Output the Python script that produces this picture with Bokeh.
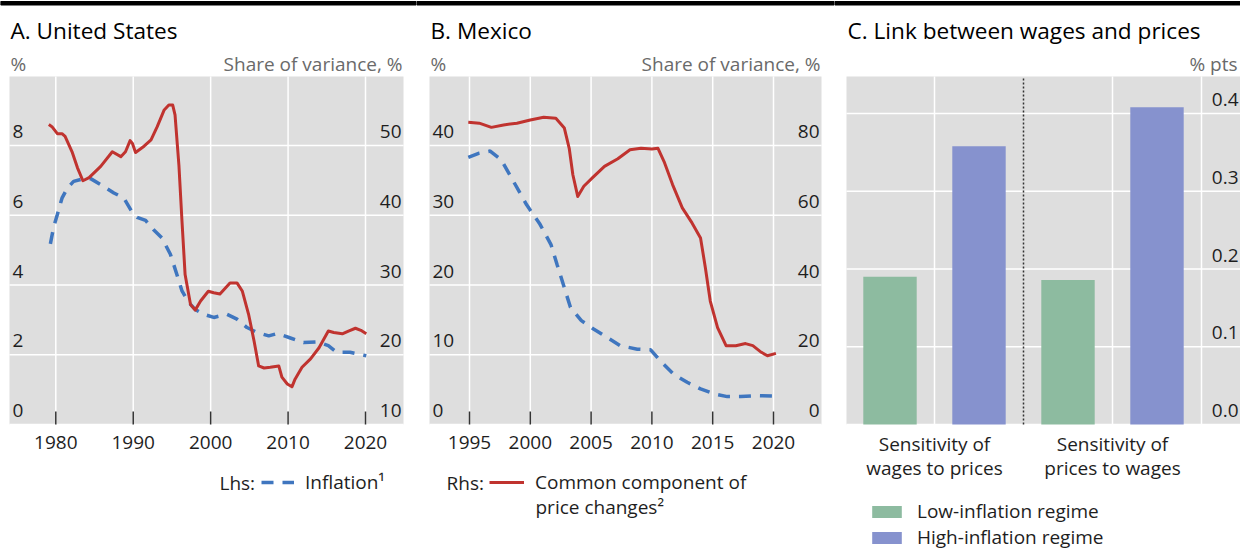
from bokeh.plotting import figure
from bokeh.models import Range1d, Label, Legend, LegendItem, ColumnDataSource
from bokeh.layouts import row
from bokeh.embed import file_html
from bokeh.resources import INLINE
from bokeh.core.properties import value

# ---------------- data ----------------
# Panel A: United States
us_infl_year = [1979.3, 1979.7, 1980.2, 1980.8, 1981.5, 1982.3, 1983.6, 1984.5, 1985.8, 1987.5,
                1988.8, 1989.9, 1990.5, 1991.6, 1992.6, 1993.7, 1994.8, 1995.7, 1996.3, 1997.2,
                1998.0, 1999.1, 2000.4, 2002.1, 2003.4, 2004.7, 2006.0, 2007.5, 2008.6, 2010.3,
                2012.0, 2013.8, 2015.2, 2016.3, 2018.0, 2020.1]
us_inflation = [5.18, 5.64, 6.02, 6.49, 6.78, 6.97, 7.05, 7.05, 6.88, 6.64,
                6.49, 6.07, 5.94, 5.85, 5.59, 5.35, 4.88, 4.26, 3.83, 3.49,
                3.30, 3.16, 3.07, 3.16, 3.02, 2.78, 2.64, 2.54, 2.61, 2.48,
                2.35, 2.37, 2.26, 2.07, 2.07, 1.97]
us_comm_year = [1979.1, 1979.5, 1980.2, 1980.8, 1981.2, 1982.1, 1982.8, 1983.5, 1984.3, 1985.8,
                1987.3, 1988.4, 1989.0, 1989.6, 1989.9, 1990.3, 1991.4, 1992.3, 1993.1, 1994.0,
                1994.6, 1995.1, 1995.4, 1995.9, 1996.3, 1996.7, 1997.4, 1998.0, 1998.7, 1999.7,
                2000.4, 2001.2, 2002.5, 2003.4, 2004.1, 2004.9, 2005.6, 2006.2, 2006.9, 2007.7,
                2008.8, 2009.2, 2009.9, 2010.5, 2010.9, 2011.8, 2012.9, 2014.0, 2015.2, 2015.9,
                2017.0, 2017.8, 2018.7, 2019.4, 2020.1]
us_common = [53.0, 52.7, 51.7, 51.7, 51.3, 49.1, 46.8, 44.95, 45.4, 47.0,
             49.1, 48.4, 49.1, 50.7, 50.3, 49.0, 49.9, 50.8, 52.7, 55.1,
             55.8, 55.8, 54.4, 47.2, 39.1, 31.5, 27.2, 26.4, 27.7, 29.1,
             28.9, 28.7, 30.3, 30.3, 29.1, 25.8, 22.0, 18.4, 18.1, 18.2,
             18.4, 16.8, 15.8, 15.4, 16.5, 18.2, 19.4, 21.0, 23.4, 23.2,
             23.0, 23.4, 23.8, 23.5, 23.0]
us_xticks = [1980, 1990, 2000, 2010, 2020]
us_lhs_ticks = [0, 2, 4, 6, 8]
us_rhs_ticks = [10, 20, 30, 40, 50]

# Panel B: Mexico
mx_infl_year = [1994.9, 1995.8, 1996.7, 1997.6, 1998.6, 1999.7, 2000.8, 2001.7, 2002.2, 2002.8,
                2003.3, 2004.2, 2005.2, 2006.3, 2007.4, 2008.8, 2009.9, 2010.7, 2011.8, 2012.9,
                2014.0, 2015.1, 2016.2, 2017.3, 2018.6, 2020.2]
mx_inflation = [38.3, 38.9, 39.2, 37.96, 34.9, 31.5, 28.7, 25.8, 22.95, 19.6,
                16.8, 14.9, 13.7, 12.5, 11.3, 10.8, 10.7, 9.1, 7.2, 6.05,
                5.1, 4.4, 4.0, 4.0, 4.14, 4.05]
mx_comm_year = [1994.9, 1995.8, 1996.8, 1997.8, 1998.9, 2000.0, 2001.1, 2002.1, 2002.8, 2003.2,
                2003.5, 2003.9, 2004.4, 2005.1, 2006.1, 2007.2, 2008.2, 2009.1, 2010.0, 2010.5,
                2011.0, 2011.7, 2012.5, 2013.3, 2014.0, 2014.4, 2014.8, 2015.4, 2016.1, 2016.9,
                2017.7, 2018.3, 2019.0, 2019.5, 2020.2]
mx_common = [86.7, 86.4, 85.2, 85.9, 86.4, 87.3, 88.1, 87.8, 85.0, 79.2,
             71.6, 65.4, 68.3, 70.7, 74.0, 76.2, 78.8, 79.2, 79.0, 79.2,
             75.4, 68.8, 62.1, 57.8, 53.5, 44.9, 35.4, 27.8, 22.6, 22.6,
             23.2, 22.6, 20.7, 19.7, 20.4]
mx_xticks = [1995, 2000, 2005, 2010, 2015, 2020]
mx_lhs_ticks = [0, 10, 20, 30, 40]
mx_rhs_ticks = [0, 20, 40, 60, 80]

# Panel C: Link between wages and prices
link_categories = ["Sensitivity of\nwages to prices", "Sensitivity of\nprices to wages"]
low_inflation = [0.190, 0.186]
high_inflation = [0.358, 0.408]
link_ticks = [0.0, 0.1, 0.2, 0.3, 0.4]
link_tick_labels = ["0.0", "0.1", "0.2", "0.3", "0.4"]

# ---------------- style / layout ----------------
FONT = "Open Sans"
BG = "#DEDEDE"
RED = "#C0332F"
BLUE = "#3F76BF"
GREEN = "#8DBBA0"
PURPLE = "#8692CE"
TXT = "#1E1E1E"
UNIT = "#6A6A6A"
H = 551
GRAY_TOP, GRAY_BOT = 76, 424
FS = "19px"
DASH = "12 9"


class Panel:
    def __init__(self, width, xmap, ymap, gray_lr):
        xv, xp, xs = xmap
        yv, yp, ys = ymap
        self.x0 = xv - xp / xs
        self.x1 = self.x0 + width / xs
        self.xs = xs
        self.ytop = yv + yp / ys
        self.ys = ys
        self.gl, self.gr = gray_lr
        p = figure(width=width, height=H, x_range=Range1d(self.x0, self.x1),
                   y_range=Range1d(self.ytop - H / ys, self.ytop), title=None,
                   output_backend="svg", toolbar_location=None,
                   x_axis_location=None, y_axis_location=None,
                   min_border_left=0, min_border_right=0, min_border_top=0,
                   min_border_bottom=0)
        p.outline_line_color = None
        p.background_fill_color = "white"
        p.border_fill_color = "white"
        for g in p.xgrid + p.ygrid:
            g.visible = False
        self.p = p
        # top black rule
        p.quad(left=[self.x0], right=[self.x1], top=[self.dy(1)], bottom=[self.dy(4.5)],
               color="black")
        # plot area
        p.quad(left=[self.dx(self.gl)], right=[self.dx(self.gr)], top=[self.dy(GRAY_TOP)],
               bottom=[self.dy(GRAY_BOT)], color=BG, line_color=None)

    def dx(self, px):
        return self.x0 + px / self.xs

    def dy(self, py):
        return self.ytop - py / self.ys

    def grid(self, xticks, yticks):
        p = self.p
        n, m = len(xticks), len(yticks)
        p.segment(x0=xticks, x1=xticks, y0=[self.dy(GRAY_BOT)] * n,
                  y1=[self.dy(GRAY_TOP)] * n, line_color="white", line_width=1.5)
        p.segment(x0=[self.dx(self.gl)] * m, x1=[self.dx(self.gr)] * m, y0=yticks, y1=yticks,
                  line_color="white", line_width=1.5)

    def text(self, px, py, txt, align="left", size=FS, color=TXT):
        self.p.add_layout(Label(x=self.dx(px), y=self.dy(py), text=txt, text_font=FONT,
                                text_font_size=size, text_color=color,
                                text_baseline="middle", text_align=align))

    def header(self, title, left_unit, right_unit, right_px):
        self.text(self.gl + 1, 30, title, size="22.6px", color="black")
        if left_unit:
            self.text(self.gl + 1, 63, left_unit, size="19px", color=UNIT)
        self.text(right_px, 63, right_unit, align="right", size="19px", color=UNIT)

    def ylabels(self, ticks, labels, right=False, range_name="default"):
        x = self.dx(self.gr - 2) if right else self.dx(self.gl + 3)
        self.p.text(x=[x] * len(ticks), y=ticks, text=labels, x_offset=0, y_offset=-14,
                    text_align="right" if right else "left", text_baseline="middle",
                    text_font=value(FONT), text_font_size=FS, text_color=TXT,
                    y_range_name=range_name)


def style_legend(lg):
    lg.label_text_font = FONT
    lg.label_text_font_size = FS
    lg.label_text_color = TXT
    lg.padding = 0
    lg.margin = 0
    lg.border_line_color = None
    lg.background_fill_alpha = 0
    return lg


def line_panel(width, xmap, lmap, rmap, gray_lr, xticks, lhs_ticks, rhs_ticks,
               ix, iy, cx, cy, title, right_px):
    pn = Panel(width, xmap, lmap, gray_lr)
    p = pn.p
    rv, rp, rs = rmap
    rtop = rv + rp / rs
    p.extra_y_ranges = {"rhs": Range1d(rtop - H / rs, rtop)}
    pn.grid(xticks, lhs_ticks)
    n = len(xticks)
    # inward tick marks and year labels
    p.segment(x0=xticks, x1=xticks, y0=[pn.dy(GRAY_BOT)] * n, y1=[pn.dy(GRAY_BOT - 13)] * n,
              line_color="#333333", line_width=1.5)
    p.text(x=xticks, y=[pn.dy(442)] * n, text=[str(t) for t in xticks], text_align="center",
           text_baseline="middle", text_font=value(FONT), text_font_size=FS, text_color=TXT)
    r_infl = p.line(ix, iy, line_color=BLUE, line_width=3.5, line_dash=DASH)
    r_comm = p.line(cx, cy, line_color=RED, line_width=3, line_join="round",
                    y_range_name="rhs")
    pn.ylabels(lhs_ticks, [str(t) for t in lhs_ticks])
    pn.ylabels(rhs_ticks, [str(t) for t in rhs_ticks], right=True, range_name="rhs")
    pn.header(title, "%", "Share of variance, %", right_px)
    return pn, r_infl, r_comm


# Panel A (figure 0..416)
pnA, a_infl, a_comm = line_panel(416, (1980, 55.3, 7.7425), (0, 424, 34.875), (10, 424, 6.975),
                                 (9, 403), us_xticks, us_lhs_ticks, us_rhs_ticks,
                                 us_infl_year, us_inflation, us_comm_year, us_common,
                                 "A. United States", 402)
pnA.text(219, 482, "Lhs:")
legA = style_legend(Legend(items=[LegendItem(label=value("Inflation¹"), renderers=[a_infl])],
                           location=(261, 56), orientation="horizontal",
                           glyph_width=33, glyph_height=20, label_height=20,
                           label_standoff=11, spacing=0))
pnA.p.add_layout(legA, "center")

# Panel B (figure 416..834)
pnB, b_infl, b_comm = line_panel(418, (1995, 53, 12.16), (0, 424, 6.975), (0, 424, 3.4875),
                                 (13, 405), mx_xticks, mx_lhs_ticks, mx_rhs_ticks,
                                 mx_infl_year, mx_inflation, mx_comm_year, mx_common,
                                 "B. Mexico", 404)
pnB.text(30, 482, "Rhs:")
legB = style_legend(Legend(items=[LegendItem(label=value("Common component of"),
                                             renderers=[b_comm])],
                           location=(73, 56), orientation="horizontal",
                           glyph_width=35, glyph_height=20, label_height=20,
                           label_standoff=11, spacing=0))
pnB.p.add_layout(legB, "center")
pnB.text(119, 506, "price changes²")

# Panel C (figure 834..1240)
pnC = Panel(406, (0, 100, 178), (0, 424, 777.5), (12, 406))
pC = pnC.p
idx = list(range(len(link_categories)))
pnC.grid(idx + [idx[-1] + 0.5], link_ticks)
src = ColumnDataSource(dict(x_low=[i - 0.25 for i in idx], x_high=[i + 0.25 for i in idx],
                            low=low_inflation, high=high_inflation))
r_low = pC.vbar(x="x_low", top="low", bottom=0, width=0.30, source=src, fill_color=GREEN,
                line_color=None)
r_high = pC.vbar(x="x_high", top="high", bottom=0, width=0.30, source=src, fill_color=PURPLE,
                 line_color=None)
pC.segment(x0=[idx[0] + 0.5], x1=[idx[0] + 0.5], y0=[pnC.dy(GRAY_BOT)], y1=[pnC.dy(GRAY_TOP)],
           line_color="#333333", line_width=1.5, line_dash="2 2")
pnC.ylabels(link_ticks, link_tick_labels, right=True)
first_lines = [c.split("\n")[0] for c in link_categories]
second_lines = [c.split("\n")[1] for c in link_categories]
pC.text(x=idx, y=[pnC.dy(443)] * len(idx), text=first_lines, text_align="center",
        text_baseline="middle", text_font=value(FONT), text_font_size=FS, text_color=TXT)
pC.text(x=idx, y=[pnC.dy(467)] * len(idx), text=second_lines, text_align="center",
        text_baseline="middle", text_font=value(FONT), text_font_size=FS, text_color=TXT)
pnC.header("C. Link between wages and prices", None, "% pts", 403)
legC = style_legend(Legend(items=[LegendItem(label=value("Low-inflation regime"), renderers=[r_low]),
                                  LegendItem(label=value("High-inflation regime"), renderers=[r_high])],
                           location=(34, 1), orientation="vertical", glyph_width=37,
                           glyph_height=15, label_height=20, label_standoff=12, spacing=0))
pC.add_layout(legC, "center")

layout = row(pnA.p, pnB.p, pnC.p)
open("out.html", "w").write(file_html(layout, INLINE))
